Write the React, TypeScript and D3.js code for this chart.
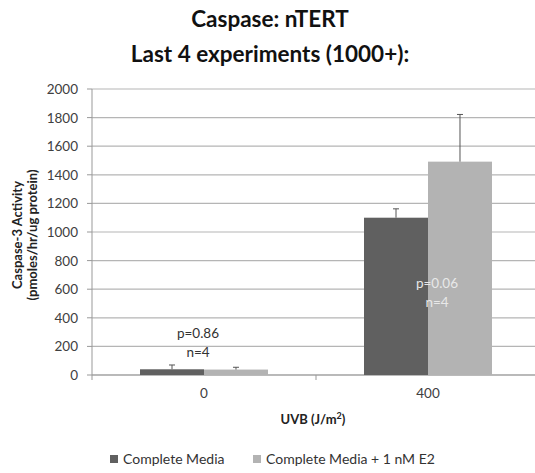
import React from "react";
import * as d3 from "d3";

const categories = ["0", "400"];
const seriesNames = ["Complete Media", "Complete Media + 1 nM E2"];
const seriesColors = ["#606060", "#b3b3b3"];
const valuesCM = [40, 1100];
const valuesE2 = [38, 1492];
const errCM = [30, 62];
const errE2 = [16, 330];
const yTicks = [0, 200, 400, 600, 800, 1000, 1200, 1400, 1600, 1800, 2000];
const annotations = [
  { cat: "0", p: "p=0.86", n: "n=4", y: 259, dx: -6, color: "#333" },
  { cat: "400", p: "p=0.06", n: "n=4", y: 608, dx: 9, color: "#e8e8e8" },
];

export default function App() {
  const W = 535, H = 473;
  const left = 92, right = 540, top = 89, bottom = 375;
  const font = "Lato, 'Open Sans', sans-serif";
  const x = d3.scaleBand<string>().domain(categories).range([left, right]).paddingInner(0.4286).paddingOuter(0.2143);
  const xs = d3.scaleBand<string>().domain(["a", "b"]).range([0, x.bandwidth()]);
  const y = d3.scaleLinear().domain([0, 2000]).range([bottom, top]);
  const series = [
    { vals: valuesCM, errs: errCM, key: "a" },
    { vals: valuesE2, errs: errE2, key: "b" },
  ];
  return (
    <svg width={W} height={H} style={{ position: "absolute", left: 0, top: 0, background: "#fff" }} fontFamily={font}>
      <text x={270} y={27} textAnchor="middle" fontSize={22.5} fontWeight="bold" fill="#111">Caspase: nTERT</text>
      <text x={270} y={62} textAnchor="middle" fontSize={22.5} fontWeight="bold" fill="#111">Last 4 experiments (1000+):</text>
      {yTicks.map((t) => (
        <g key={t}>
          <line x1={left} x2={right} y1={y(t)} y2={y(t)} stroke="#b5b5b5" strokeWidth={1.2} />
          <line x1={left - 5} x2={left} y1={y(t)} y2={y(t)} stroke="#999" />
          <text x={78} y={y(t) + 5} textAnchor="end" fontSize={13.5} fill="#404040">{t}</text>
        </g>
      ))}
      <line x1={left} x2={left} y1={top} y2={bottom} stroke="#999" />
      <line x1={left} x2={right} y1={bottom} y2={bottom} stroke="#999" />
      {[left, (x("0")! + x.bandwidth() + x("400")!) / 2].map((tx, i) => (
        <line key={i} x1={tx} x2={tx} y1={bottom} y2={bottom + 5} stroke="#999" />
      ))}
      {series.map((s, si) =>
        categories.map((c, ci) => {
          const bx = x(c)! + xs(s.key)!;
          const cx = bx + xs.bandwidth() / 2;
          return (
            <g key={si + "-" + ci}>
              <rect x={bx} y={y(s.vals[ci])} width={xs.bandwidth()} height={bottom - y(s.vals[ci])} fill={seriesColors[si]} />
              <line x1={cx} x2={cx} y1={y(s.vals[ci])} y2={y(s.vals[ci] + s.errs[ci])} stroke="#555" />
              <line x1={cx - 3} x2={cx + 3} y1={y(s.vals[ci] + s.errs[ci])} y2={y(s.vals[ci] + s.errs[ci])} stroke="#555" />
            </g>
          );
        })
      )}
      {annotations.map((a) => (
        <g key={a.cat}>
          <text x={x(a.cat)! + x.bandwidth() / 2 + a.dx} y={y(a.y)} textAnchor="middle" fontSize={13.5} fill={a.color}>{a.p}</text>
          <text x={x(a.cat)! + x.bandwidth() / 2 + a.dx} y={y(a.y) + 19} textAnchor="middle" fontSize={13.5} fill={a.color}>{a.n}</text>
        </g>
      ))}
      {categories.map((c) => (
        <text key={c} x={x(c)! + x.bandwidth() / 2} y={398} textAnchor="middle" fontSize={13.5} fill="#404040">{c}</text>
      ))}
      <text x={313} y={424} textAnchor="middle" fontSize={13} fontWeight="bold" fill="#222">
        UVB (J/m<tspan dy={-5} fontSize={9}>2</tspan><tspan dy={5}>)</tspan>
      </text>
      <g transform="translate(22,235) rotate(-90)">
        <text x={0} y={0} textAnchor="middle" fontSize={13} fontWeight="bold" fill="#222">Caspase-3 Activity</text>
        <text x={0} y={15} textAnchor="middle" fontSize={13} fontWeight="bold" fill="#222">(pmoles/hr/ug protein)</text>
      </g>
      {seriesNames.map((n, i) => {
        const lx = i === 0 ? 110 : 253;
        return (
          <g key={n}>
            <rect x={lx} y={455} width={8} height={8} fill={seriesColors[i]} />
            <text x={lx + 13} y={464} fontSize={14} fill="#333">{n}</text>
          </g>
        );
      })}
    </svg>
  );
}
